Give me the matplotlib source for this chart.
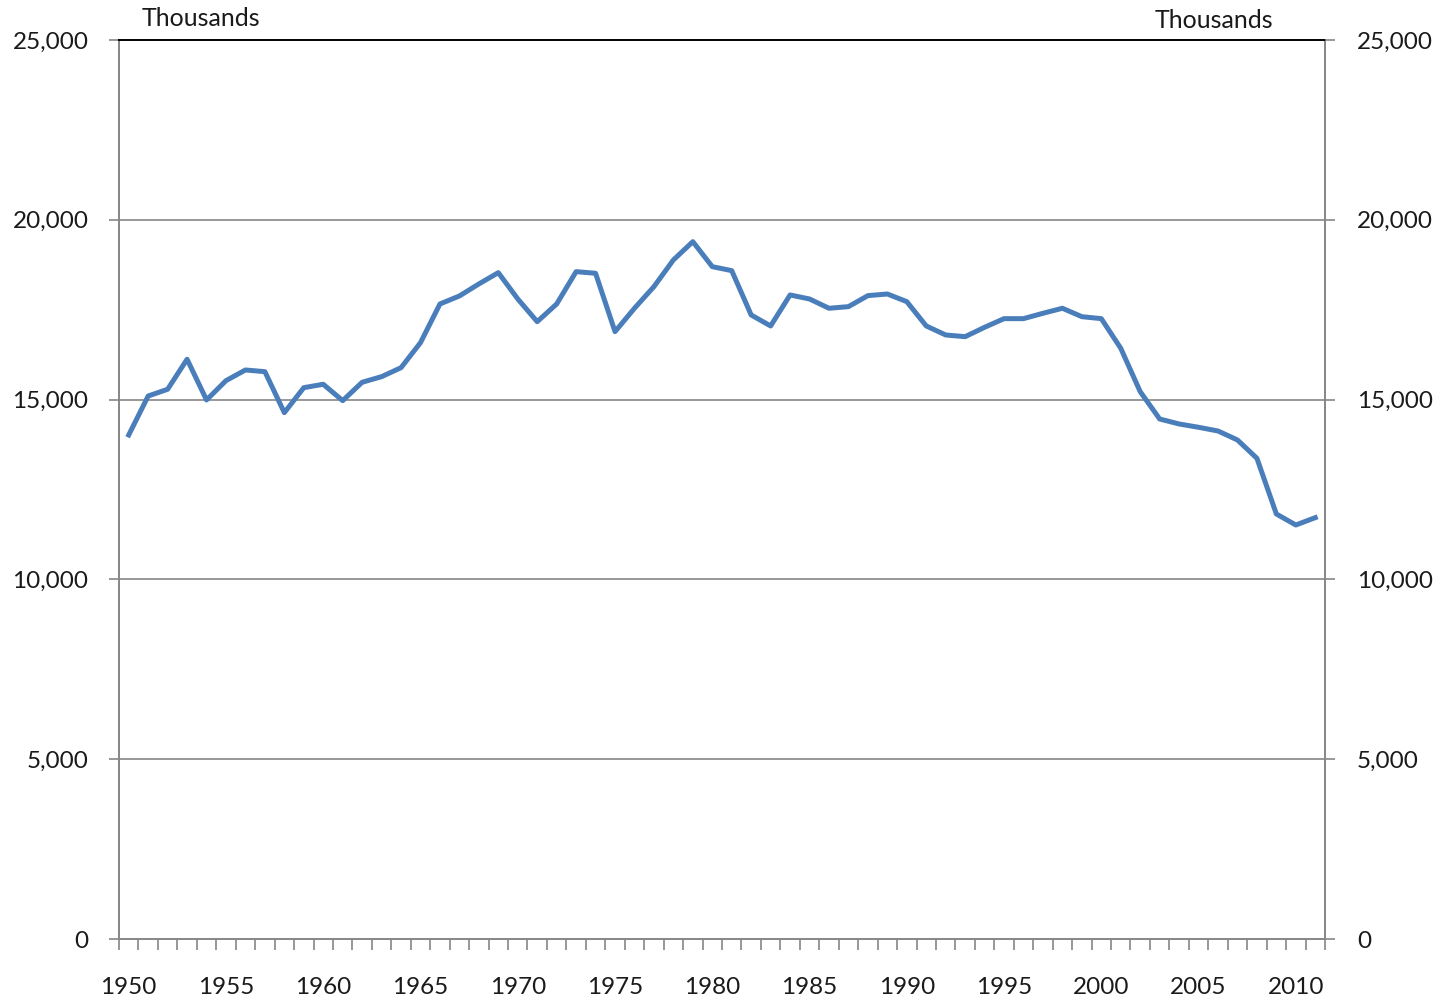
import numpy as np
import matplotlib
matplotlib.use("Agg")
import matplotlib.pyplot as plt
from matplotlib.ticker import FuncFormatter, FixedLocator

plt.rcParams["font.family"] = ["Lato", "DejaVu Sans"]

years = list(range(1950, 2012))
values = [14016, 15100, 15287, 16122, 14990, 15527, 15824, 15777, 14637, 15332,
          15426, 14971, 15482, 15638, 15888, 16584, 17659, 17882, 18216, 18530,
          17800, 17167, 17659, 18558, 18513, 16890, 17540, 18141, 18883, 19392,
          18697, 18586, 17353, 17048, 17910, 17798, 17540, 17585, 17891, 17937,
          17724, 17048, 16797, 16750, 17011, 17251, 17251, 17400, 17540, 17306,
          17251, 16427, 15221, 14461, 14322, 14230, 14127, 13877, 13368, 11819,
          11513, 11717]
year_labels = list(range(1950, 2011, 5))
y_ticks = [0, 5000, 10000, 15000, 20000, 25000]

line_color = "#4a7ebb"
axis_gray = "#868686"
text_color = "#1a1a1a"
fs = 17.5

fig = plt.figure(figsize=(14.43, 10), dpi=100)
ax = fig.add_axes([119 / 1443, 61 / 1000, (1325 - 119) / 1443, (939 - 40) / 1000])

ax.plot(years, values, color=line_color, linewidth=3.6, solid_joinstyle="round", zorder=3)

ax.set_xlim(years[0] - 0.5, years[-1] + 0.5)
ax.set_ylim(0, 25000)

fmt = FuncFormatter(lambda v, p: f"{v:,.0f}")
ax.set_yticks(y_ticks)
ax.yaxis.set_major_formatter(fmt)
for v in y_ticks[1:-1]:
    ax.axhline(v, color=axis_gray, linewidth=1.2, zorder=1)

# labels at category centres, tick marks on category boundaries
ax.xaxis.set_major_locator(FixedLocator(year_labels))
ax.set_xticklabels([str(y) for y in year_labels])
ax.xaxis.set_minor_locator(FixedLocator(np.arange(years[0] - 0.5, years[-1] + 1.0, 1.0)))
ax.tick_params(axis="x", which="major", length=0, pad=27, labelsize=fs, labelcolor=text_color)
ax.tick_params(axis="x", which="minor", length=8, width=1.2, color=axis_gray, direction="out")
ax.tick_params(axis="y", length=7, width=1.2, color=axis_gray, direction="out", pad=15,
               labelsize=fs, labelcolor=text_color)

for side in ["left", "right", "bottom"]:
    ax.spines[side].set_color(axis_gray)
    ax.spines[side].set_linewidth(1.4)
ax.spines["top"].set_color("#000000")
ax.spines["top"].set_linewidth(1.4)

ax2 = ax.twinx()
ax2.set_ylim(0, 25000)
ax2.set_yticks(y_ticks)
ax2.yaxis.set_major_formatter(fmt)
ax2.tick_params(axis="y", length=7, width=1.2, color=axis_gray, direction="out", pad=16,
                labelsize=fs, labelcolor=text_color)
for side in ["left", "right", "bottom", "top"]:
    ax2.spines[side].set_visible(False)

fig.text(142 / 1443, 1 - 18 / 1000, "Thousands", fontsize=fs + 0.5, color=text_color, ha="left", va="center")
fig.text(1273 / 1443, 1 - 20 / 1000, "Thousands", fontsize=fs + 0.5, color=text_color, ha="right", va="center")

fig.savefig("out.png", dpi=100, facecolor="white")
